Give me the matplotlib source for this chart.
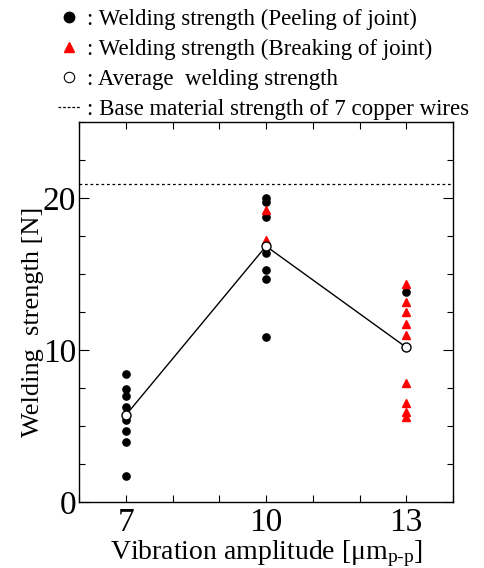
import matplotlib
matplotlib.use("Agg")
import matplotlib.pyplot as plt
from matplotlib.lines import Line2D
from matplotlib.ticker import MultipleLocator, FixedLocator, FixedFormatter

plt.rcParams['font.family'] = ['Liberation Serif', 'DejaVu Serif']
plt.rcParams['mathtext.fontset'] = 'custom'
plt.rcParams['mathtext.rm'] = 'Liberation Serif'

# Data
amplitudes = [7, 10, 13]
peel_7 = [8.4, 7.43, 7.0, 6.27, 5.39, 4.67, 3.93, 1.73]
peel_10 = [20.0, 19.75, 18.73, 16.36, 15.26, 14.71, 10.88]
break_10 = [19.2, 17.24]
peel_13 = [13.8]
break_13 = [14.34, 13.14, 12.52, 11.69, 10.99, 7.85, 6.53, 5.94, 5.61]
average = [5.72, 16.84, 10.18]
base_strength = 20.9
x_ticklabels = ['7', '10', '13']

fig = plt.figure(figsize=(4.85, 5.68), dpi=100)
ax = fig.add_axes([0.163, 0.116, 0.771, 0.669])

# dashed base material line
ax.axhline(base_strength, color='k', lw=0.9, ls=(0, (2.2, 2.2)), zorder=1)

# individual points
peel = [(7, v) for v in peel_7] + [(10, v) for v in peel_10] + [(13, v) for v in peel_13]
brk = [(10, v) for v in break_10] + [(13, v) for v in break_13]
ax.plot([p[0] for p in peel], [p[1] for p in peel], 'o', color='k', ms=5.2,
        ls='none', zorder=3)
ax.plot([p[0] for p in brk], [p[1] for p in brk], '^', color='red', ms=6.2,
        ls='none', zorder=3)

# average line
ax.plot(amplitudes, average, '-', color='k', lw=1, zorder=4)
ax.plot(amplitudes, average, 'o', mfc='white', mec='k', mew=1, ms=6.5,
        ls='none', zorder=5)

ax.set_xlim(6, 14)
ax.set_ylim(0, 25)
ax.xaxis.set_major_locator(FixedLocator(list(range(6, 15))))
ax.xaxis.set_major_formatter(FixedFormatter(
    ['' if t not in amplitudes else x_ticklabels[amplitudes.index(t)] for t in range(6, 15)]))
ax.yaxis.set_major_locator(MultipleLocator(10))
ax.yaxis.set_minor_locator(MultipleLocator(2.5))

ax.tick_params(which='both', direction='in', top=True, right=True, width=0.8)
ax.tick_params(axis='y', which='major', length=7, labelsize=24, pad=2)
ax.tick_params(axis='y', which='minor', length=4)
ax.tick_params(axis='x', which='major', length=5, labelsize=24, pad=4)
for s in ax.spines.values():
    s.set_linewidth(1)

ax.set_xlabel(r'Vibration amplitude [$\mathrm{\mu m_{p\text{-}p}}$]', fontsize=20, labelpad=0)
ax.set_ylabel('Welding  strength [N]', fontsize=19)
ax.yaxis.set_label_coords(-0.095, 0.474)

handles = [
    Line2D([], [], marker='o', color='k', ls='none', ms=7.5),
    Line2D([], [], marker='^', color='red', ls='none', ms=7.5),
    Line2D([], [], marker='o', mfc='white', mec='k', ls='none', ms=7.5, mew=0.8),
    Line2D([], [], color='k', lw=0.9, ls=(0, (2.2, 1.5))),
]
labels = [': Welding strength (Peeling of joint)',
          ': Welding strength (Breaking of joint)',
          ': Average  welding strength',
          ': Base material strength of 7 copper wires']
fig.legend(handles, labels, loc='upper left', bbox_to_anchor=(0.1, 1.0),
           frameon=False, fontsize=16.5, handlelength=1.0, handletextpad=0.3,
           labelspacing=0.38, borderaxespad=0)

fig.savefig('out.png', dpi=100)
